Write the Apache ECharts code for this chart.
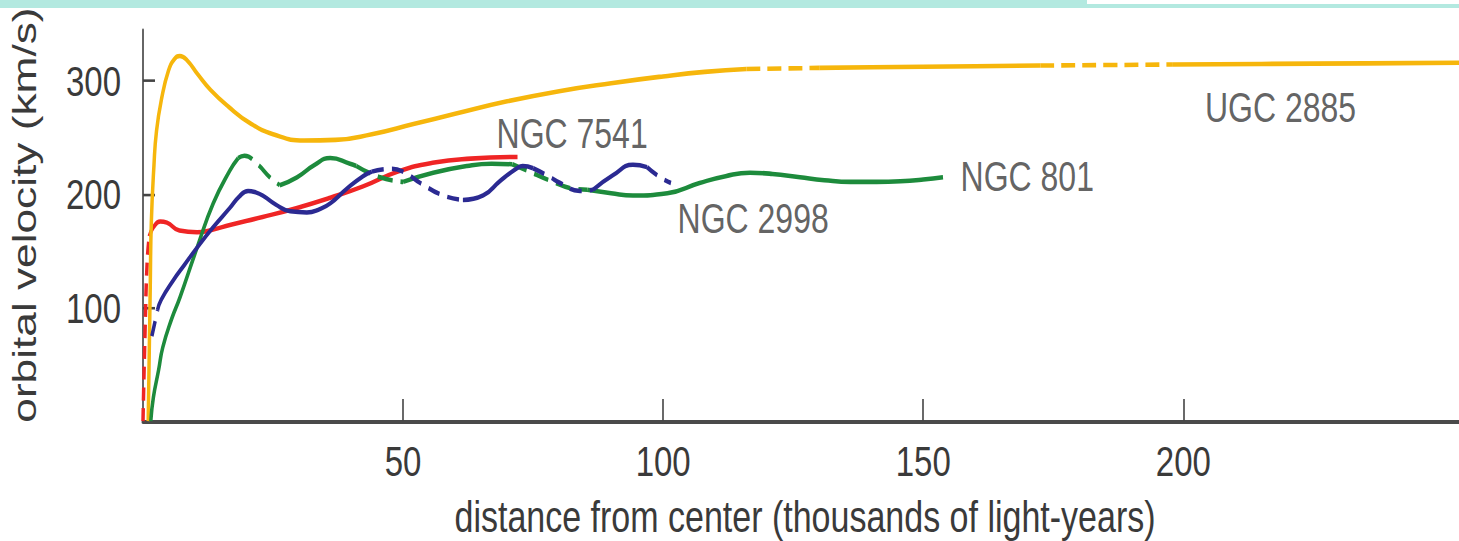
<!DOCTYPE html>
<html>
<head>
<meta charset="utf-8">
<script src="https://cdn.jsdelivr.net/npm/echarts@6/dist/echarts.min.js"></script>
<style>
  html { margin: 0; padding: 0; overflow: hidden; background: #ffffff; }
  body { margin: 0; padding: 0; width: 1459px; height: 541px; background: #ffffff; }
  #chart {
    width: 1459px;
    height: 416px;
    transform: scaleY(1.3005);
    transform-origin: 0 0;
  }
</style>
</head>
<body>
<div id="chart"></div>
<script>
// Rotation curves of four spiral galaxies: orbital velocity (km/s)
// against distance from the centre (thousands of light-years).

const xTicks = [50, 100, 150, 200];
const yTicks = [100, 200, 300];

// [distance, velocity] samples along each curve
const ugc2885 = [
  [1, 0], [1.2, 60], [1.4, 120], [1.6, 175], [2.1, 225], [2.6, 256], [3.6, 285],
  [4.9, 309], [6, 319], [7.1, 322], [8.5, 318], [10.5, 306], [13, 292], [16.5, 277],
  [20.5, 263], [25, 253], [31, 247.5], [37, 248], [44, 253], [52, 262], [60, 271],
  [70, 282], [80, 291], [90, 298], [100, 304], [108, 308], [116, 310.5], [123, 311],
  [130, 311.5], [140, 312], [150, 312.5], [160, 313], [172.5, 313.6], [185, 314],
  [198, 314.5], [215, 315], [235, 315.5], [253, 316]
];
const ngc7541 = [
  [0, 0], [0.4, 80], [0.8, 140], [1.2, 163], [2, 171], [3.3, 176], [4.6, 175],
  [7, 168], [10.4, 166.5], [13.5, 169], [16.7, 173], [23, 180], [29.6, 188],
  [36, 197], [42.3, 207], [49, 220], [56, 228], [63, 231.5], [72, 233]
];
const ngc2998 = [
  [1.7, 75], [2.8, 98], [3.5, 107], [5.8, 124], [8, 138], [10.4, 153], [13.5, 171],
  [16.7, 188], [18.5, 198], [20.2, 203], [21.5, 202], [23, 199], [25.5, 191],
  [28.3, 185], [31.5, 184], [34, 187], [36, 192], [39.2, 205], [42.3, 216], [44, 220],
  [47.5, 222.5], [50, 220], [53.3, 210], [57.7, 199], [61.5, 195], [65.4, 199],
  [68.7, 212], [71.9, 223], [73, 225], [75, 223], [78, 216], [80.2, 210], [84, 203],
  [86.5, 204], [90.4, 217], [94.2, 226], [96.9, 224], [99.4, 215], [101.5, 210]
];
const ngc801 = [
  [1.5, 0], [2, 21], [3, 45], [3.8, 65], [5.5, 90], [7.1, 109], [10.4, 153],
  [13.5, 192], [16.7, 221], [18.3, 232], [19.5, 234], [21.9, 227], [24.4, 215],
  [26.3, 208], [29.6, 215], [33, 226], [36, 232], [39.8, 227], [41, 225],
  [45.6, 215], [50, 211], [55.8, 219], [62.3, 225], [67, 227], [71, 226.5],
  [73.8, 221], [78.3, 212], [82.7, 205], [85.4, 204], [90, 201], [94.2, 199],
  [100.8, 201], [107, 210], [112, 216], [116.7, 219], [121, 218], [126.3, 215],
  [131, 212.5], [136, 211], [141, 211], [145.6, 211.5], [150, 213], [153.8, 215]
];

// stretches of each curve drawn dashed (distance ranges)
const ugc2885Dashed = [[116, 130], [172.5, 198]];
const ngc7541Dashed = [[0, 1.2]];
const ngc2998Dashed = [[1.7, 2.8], [44, 61.5], [75, 86.5], [96.9, 101.5]];
const ngc801Dashed = [[18.3, 26.3], [41, 50], [71, 85.4]];

// curve names placed beside the curves, in data coordinates
const labelNames = ['UGC 2885', 'NGC 7541', 'NGC 801', 'NGC 2998'];
const labelX = [218.7, 82.5, 170, 117.3];
const labelY = [276.7, 253.7, 215.9, 178.9];

const FONT = "'Liberation Sans', Arial, Helvetica, sans-serif";
const TEXT = '#3a3a3a';

// Break one curve into solid and dashed line series
function curveSeries(name, pts, dashed, color, dash) {
  const cuts = [pts[0][0]];
  dashed.forEach(r => { cuts.push(r[0], r[1]); });
  cuts.push(pts[pts.length - 1][0]);
  const uniq = Array.from(new Set(cuts)).sort((a, b) => a - b);
  const out = [];
  for (let i = 0; i < uniq.length - 1; i++) {
    const a = uniq[i], b = uniq[i + 1];
    const seg = pts.filter(p => p[0] >= a && p[0] <= b);
    if (seg.length < 2) continue;
    const isDash = dashed.some(r => r[0] <= a && r[1] >= b);
    out.push({
      name: name,
      type: 'line',
      data: seg,
      smooth: 0.5,
      showSymbol: false,
      silent: true,
      z: 3,
      lineStyle: {
        color: color,
        width: 3.5,
        type: isDash ? dash : 'solid',
        cap: 'butt'
      }
    });
  }
  return out;
}

const series = [].concat(
  curveSeries('NGC 7541', ngc7541, ngc7541Dashed, '#ef2525', [10, 6]),
  curveSeries('UGC 2885', ugc2885, ugc2885Dashed, '#f6b60c', [14, 7]),
  curveSeries('NGC 801', ngc801, ngc801Dashed, '#1d8b3c', [15, 8]),
  curveSeries('NGC 2998', ngc2998, ngc2998Dashed, '#2b2a92', [12, 8])
);

series.push({
  type: 'scatter',
  data: labelNames.map((n, i) => ({ name: n, value: [labelX[i], labelY[i]] })),
  symbolSize: 0,
  silent: true,
  z: 5,
  label: {
    show: true,
    position: 'inside',
    formatter: p => p.name,
    fontFamily: FONT,
    fontSize: 32,
    color: TEXT
  }
});

const chart = echarts.init(document.getElementById('chart'), null, { renderer: 'svg' });

chart.setOption({
  backgroundColor: '#ffffff',
  animation: false,
  graphic: [
    { type: 'rect', left: 0, top: 0, shape: { width: 1459, height: 6.2 }, style: { fill: '#b3e9e0' }, z: 10 },
    { type: 'rect', left: 1087, top: 0, shape: { width: 372, height: 3.1 }, style: { fill: '#ffffff' }, z: 11 }
  ],
  grid: { left: 143, right: 0, top: 23, bottom: 92.2, containLabel: false, outerBoundsMode: 'none' },
  xAxis: {
    type: 'value',
    min: 0,
    max: 253,
    name: 'distance from center (thousands of light-years)',
    nameLocation: 'middle',
    nameGap: 56,
    nameTextStyle: { fontFamily: FONT, fontSize: 34, color: TEXT, padding: [0, 0, 0, 8] },
    splitLine: { show: false },
    axisLine: { show: true, onZero: false, lineStyle: { color: '#4a4a4a', width: 3 } },
    axisTick: {
      show: true, inside: true, length: 17, customValues: xTicks,
      lineStyle: { color: '#444', width: 1.6 }
    },
    axisLabel: {
      show: true, margin: 14, customValues: xTicks,
      fontFamily: FONT, fontSize: 33, color: TEXT
    }
  },
  yAxis: {
    type: 'value',
    min: 0,
    max: 345,
    name: 'orbital velocity (km/s)',
    nameLocation: 'middle',
    nameGap: 102,
    nameTextStyle: { fontFamily: FONT, fontSize: 34, color: TEXT, padding: [0, 0, 0, 16] },
    splitLine: { show: false },
    axisLine: { show: true, onZero: false, lineStyle: { color: '#666', width: 2 } },
    axisTick: {
      show: true, inside: true, length: 12, customValues: yTicks,
      lineStyle: { color: '#444', width: 2 }
    },
    axisLabel: {
      show: true, margin: 22, customValues: yTicks,
      fontFamily: FONT, fontSize: 33, color: TEXT
    }
  },
  series: series
});
</script>
</body>
</html>
